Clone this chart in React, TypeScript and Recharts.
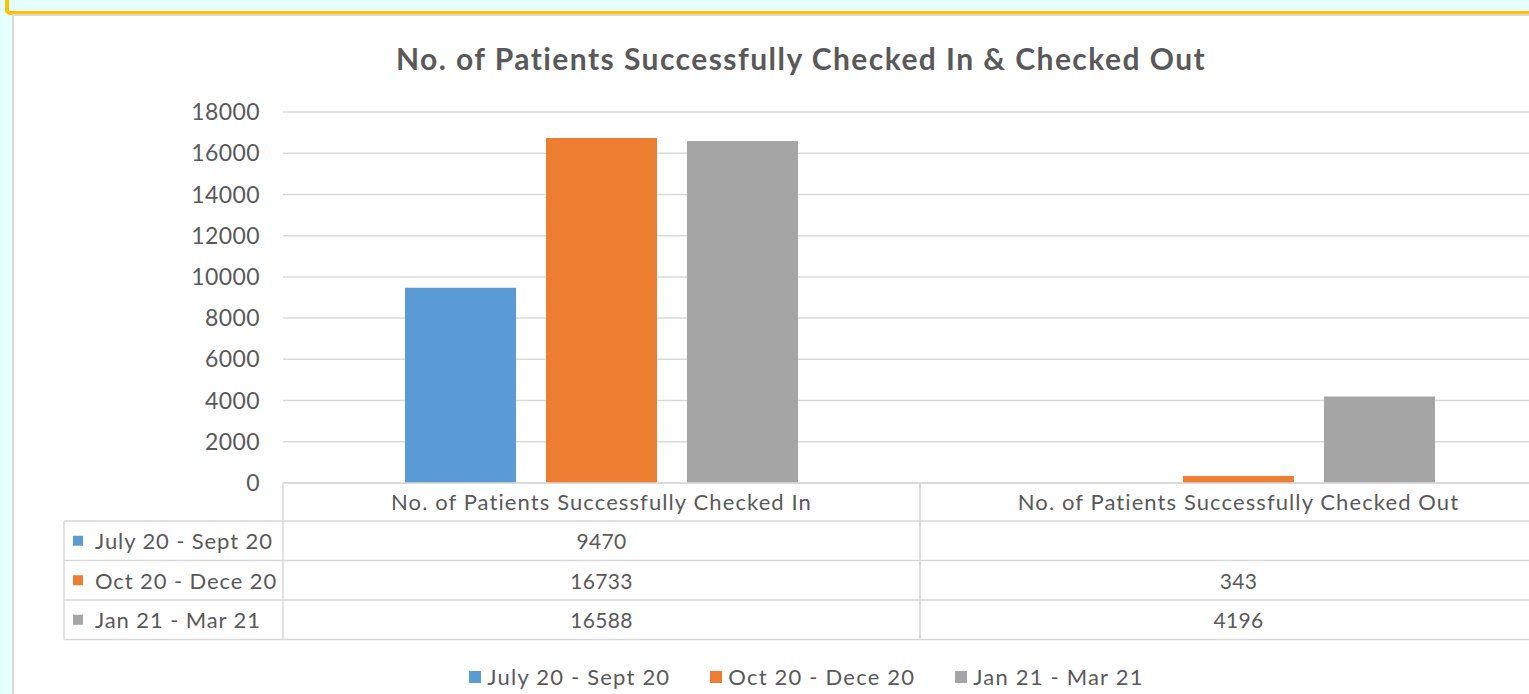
import { BarChart, Bar, XAxis, YAxis, CartesianGrid, Legend } from 'recharts';

const categories = [
  'No. of Patients Successfully Checked In',
  'No. of Patients Successfully Checked Out',
];
const seriesNames = ['July 20 - Sept 20', 'Oct 20 - Dece 20', 'Jan 21 - Mar 21'];
const julySept = [9470, null];
const octDec = [16733, 343];
const janMar = [16588, 4196];
const yTicks = [0, 2000, 4000, 6000, 8000, 10000, 12000, 14000, 16000, 18000];

const COLORS = ['#5b9bd5', '#ed7d31', '#a5a5a5'];
const KEYS = ['s0', 's1', 's2'];
const SERIES = [julySept, octDec, janMar];
const FONT = 'Lato, "Open Sans", sans-serif';
const TEXT = '#595959';
const LINE = '#d9d9d9';

const data = categories.map((c, i) => ({
  name: c,
  s0: julySept[i],
  s1: octDec[i],
  s2: janMar[i],
}));

const HEADER_H = 38;
const ROW_H = 39.5;
const LABEL_COL = 219;

// data table drawn under each category band
function TableTick(props: any) {
  const { x, y, payload, index } = props;
  const half = payload.offset || 318.5;
  const left = x - half;
  const right = x + half;
  const bottom = y + HEADER_H + ROW_H * 3;
  const rowLines = [0, 1, 2, 3].map(r => y + HEADER_H + ROW_H * r);
  return (
    <g>
      <line x1={left} x2={left} y1={y} y2={bottom} stroke={LINE} strokeWidth={1.5} />
      <line x1={right} x2={right} y1={y} y2={bottom} stroke={LINE} strokeWidth={1.5} />
      {rowLines.map((ry, r) => (
        <line key={r} x1={index === 0 ? left - LABEL_COL : left} x2={right} y1={ry} y2={ry} stroke={LINE} strokeWidth={1.5} />
      ))}
      <text x={x} y={y + HEADER_H / 2 - 1} textAnchor="middle" dominantBaseline="central"
        fill={TEXT} fontSize={22} letterSpacing={1.1} fontFamily={FONT}>{payload.value}</text>
      {SERIES.map((s, r) => (
        s[index] != null ? (
          <text key={r} x={x} y={y + HEADER_H + ROW_H * r + ROW_H / 2} textAnchor="middle" dominantBaseline="central"
            fill={TEXT} fontSize={21} letterSpacing={0.3} fontFamily={FONT}>{s[index]}</text>
        ) : null
      ))}
      {index === 0 && (
        <g>
          <line x1={left - LABEL_COL} x2={left - LABEL_COL} y1={y + HEADER_H} y2={bottom} stroke={LINE} strokeWidth={1.5} />
          {seriesNames.map((n, r) => {
            const cy = y + HEADER_H + ROW_H * r + ROW_H / 2;
            return (
              <g key={n}>
                <rect x={left - LABEL_COL + 9} y={cy - 5} width={10} height={10} fill={COLORS[r]} />
                <text x={left - LABEL_COL + 31} y={cy} dominantBaseline="central"
                  fill={TEXT} fontSize={22} letterSpacing={0.9} fontFamily={FONT}>{n}</text>
              </g>
            );
          })}
        </g>
      )}
    </g>
  );
}

function LegendContent() {
  return (
    <div style={{ display: 'flex', justifyContent: 'center', gap: 40, fontFamily: FONT, fontSize: 22, letterSpacing: 1.2, color: TEXT }}>
      {seriesNames.map((n, i) => (
        <div key={n} style={{ display: 'flex', alignItems: 'center', gap: 6 }}>
          <span style={{ width: 12, height: 12, background: COLORS[i], display: 'inline-block' }} />
          <span>{n}</span>
        </div>
      ))}
    </div>
  );
}

export default function App() {
  return (
    <div style={{ position: 'fixed', left: 0, top: 0, width: 1529, height: 694, overflow: 'hidden', background: '#e6ffff' }}>
      <div style={{ position: 'absolute', left: 5, top: -40, width: 1600, height: 55, boxSizing: 'border-box', border: '4px solid #ffc000', borderRadius: 5 }} />
      <div style={{ position: 'absolute', left: 12, top: 14, width: 1700, height: 800, background: '#fff', borderLeft: `2px solid ${LINE}`, borderTop: `2px solid ${LINE}` }} />
      <div style={{ position: 'absolute', left: 0, top: 40, width: 1602, textAlign: 'center', fontFamily: FONT, fontWeight: 700, fontSize: 30, letterSpacing: 1.45, color: TEXT }}>
        No. of Patients Successfully Checked In &amp; Checked Out
      </div>
      <div style={{ position: 'absolute', left: 0, top: 0 }}>
        <BarChart width={1600} height={694} data={data} barSize={111} barGap={30}
          margin={{ top: 112, right: 43, bottom: 54, left: 0 }}>
          <CartesianGrid vertical={false} stroke={LINE} strokeWidth={1.5} />
          <XAxis dataKey="name" height={157} interval={0} tickLine={false} tickSize={0} tickMargin={0}
            axisLine={{ stroke: LINE, strokeWidth: 1.5 }} tick={<TableTick />} />
          <YAxis width={283} domain={[0, 18000]} ticks={yTicks} axisLine={false} tickLine={false}
            tickSize={0} tickMargin={23} tick={{ fill: TEXT, fontSize: 23, fontFamily: FONT, letterSpacing: 0.4 }} />
          <Legend layout="vertical" align="center" verticalAlign="middle" content={<LegendContent />}
            wrapperStyle={{ position: 'absolute', left: 0, top: 663, width: 1613 }} />
          {KEYS.map((k, i) => (
            <Bar key={k} dataKey={k} name={seriesNames[i]} fill={COLORS[i]} isAnimationActive={false} />
          ))}
        </BarChart>
      </div>
    </div>
  );
}
